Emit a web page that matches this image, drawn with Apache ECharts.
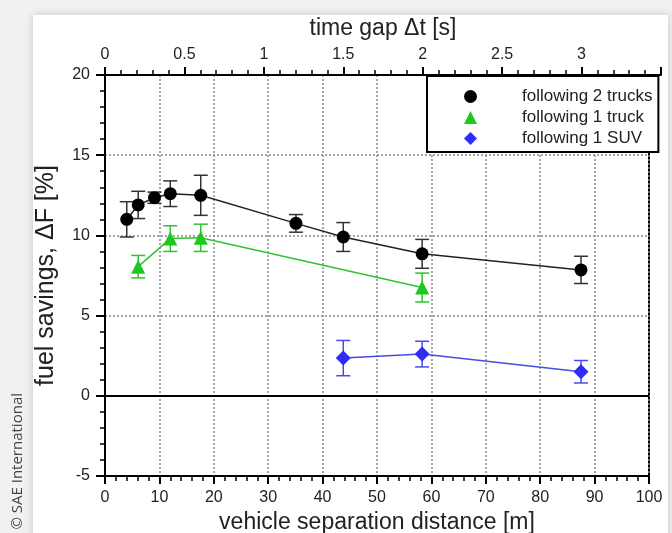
<!DOCTYPE html>
<html>
<head>
    <meta http-equiv="Content-Type" content="text/html; charset=utf-8" />
    <title>fuel savings</title>
    <style>
        body { margin: 0; background: #f1f1f1; }
        #panel {
            position: absolute; left: 33px; top: 15px; width: 635px; height: 600px;
            background: #fff; box-shadow: 0 0 8px rgba(0,0,0,.18);
        }
        #chart { position: absolute; left: 0; top: 0; width: 672px; height: 533px; }
    </style>
</head>
<body>
    <div id="panel"></div>
    <div id="chart"></div>
    <script src="https://cdn.jsdelivr.net/npm/echarts@6/dist/echarts.min.js"></script>
<script>
    // following 2 trucks
    var dist2Trucks = [4, 6.1, 9.1, 12, 17.6, 35.1, 43.8, 58.3, 87.5];
    var save2Trucks = [11.0, 11.9, 12.35, 12.6, 12.5, 10.75, 9.9, 8.85, 7.85];
    var err2Trucks = [1.1, 0.85, 0.35, 0.8, 1.25, 0.55, 0.9, 0.9, 0.85];
    // following 1 truck
    var dist1Truck = [6.1, 12, 17.6, 58.3];
    var save1Truck = [8.05, 9.8, 9.85, 6.75];
    var err1Truck = [0.7, 0.8, 0.85, 0.9];
    // following 1 SUV
    var dist1Suv = [43.8, 58.3, 87.5];
    var save1Suv = [2.35, 2.6, 1.5];
    var err1Suv = [1.1, 0.8, 0.7];

    var seriesNames = ["following 2 trucks", "following 1 truck", "following 1 SUV"];
    var font = "'Liberation Sans', Arial, sans-serif";

    function pts(xs, ys) {
        return xs.map(function (x, i) { return [x, ys[i]]; });
    }
    function bars(xs, ys, es) {
        return xs.map(function (x, i) { return [x, ys[i] - es[i], ys[i] + es[i]]; });
    }
    // error bar: vertical line + caps
    function errRender(params, api) {
        var x = api.value(0);
        var top = api.coord([x, api.value(2)]);
        var bot = api.coord([x, api.value(1)]);
        var w = 7;
        var st = { stroke: api.visual("color"), lineWidth: 1.5 };
        return {
            type: "group",
            children: [
                { type: "line", shape: { x1: top[0], y1: top[1], x2: bot[0], y2: bot[1] }, style: st },
                { type: "line", shape: { x1: top[0] - w, y1: top[1], x2: top[0] + w, y2: top[1] }, style: st },
                { type: "line", shape: { x1: bot[0] - w, y1: bot[1], x2: bot[0] + w, y2: bot[1] }, style: st }
            ]
        };
    }
    function errSeries(data, color) {
        return {
            type: "custom", renderItem: errRender, data: data,
            xAxisIndex: 0, yAxisIndex: 0, z: 1, silent: true,
            itemStyle: { color: color }, encode: { x: 0, y: [1, 2] }
        };
    }

    var dotted = { show: true, lineStyle: { color: "#8a8a8a", width: 1.5, type: [2, 2] } };
    var axisBlack = { onZero: false, lineStyle: { color: "#000", width: 2 } };
    var label = { color: "#222", fontSize: 16, fontFamily: font };
    var nameStyle = { color: "#222", fontSize: 23, fontFamily: font };

    var myChart = echarts.init(document.getElementById("chart"));
    var option = {
        animation: false,
        grid: [
            { left: 105, right: 23, top: 75, bottom: 57, outerBoundsMode: "none", show: true, borderColor: "#000", borderWidth: 2, backgroundColor: "transparent" },
            { left: 105, right: 11, top: 75, bottom: 57, outerBoundsMode: "none" }
        ],
        xAxis: [
            {
                type: "value", gridIndex: 0, position: "bottom", min: 0, max: 100, interval: 10,
                name: "vehicle separation distance [m]", nameLocation: "middle", nameGap: 34, nameTextStyle: nameStyle,
                axisLine: axisBlack,
                axisTick: { show: true, length: 8, lineStyle: { color: "#000", width: 2 } },
                minorTick: { show: true, splitNumber: 5, length: 5, lineStyle: { color: "#000", width: 1.5 } },
                axisLabel: Object.assign({ margin: 14 }, label),
                splitLine: dotted
            },
            {
                type: "value", gridIndex: 1, position: "top", min: 0, max: 3.5, interval: 0.5,
                name: "time gap \u0394t [s]", nameLocation: "middle", nameGap: 35, nameTextStyle: nameStyle,
                axisLine: axisBlack,
                axisTick: { show: true, length: 8, lineStyle: { color: "#000", width: 2 } },
                minorTick: { show: true, splitNumber: 5, length: 5, lineStyle: { color: "#000", width: 1.5 } },
                axisLabel: Object.assign({
                    margin: 12,
                    formatter: function (v) { return v > 3 ? "" : String(v); }
                }, label),
                splitLine: { show: false }
            }
        ],
        yAxis: [
            {
                type: "value", gridIndex: 0, min: -5, max: 20, interval: 5,
                name: "fuel savings, \u0394F [%]", nameLocation: "middle", nameGap: 46,
                nameTextStyle: Object.assign({}, nameStyle, { fontSize: 25 }),
                axisLine: axisBlack,
                axisTick: { show: true, length: 9, lineStyle: { color: "#000", width: 2 } },
                minorTick: { show: true, splitNumber: 5, length: 5, lineStyle: { color: "#000", width: 1.5 } },
                axisLabel: Object.assign({ margin: 15 }, label),
                splitLine: dotted
            },
            { type: "value", gridIndex: 1, min: -5, max: 20, show: false }
        ],
        legend: {
            orient: "vertical", left: 427, top: 76,
            backgroundColor: "#fff", borderColor: "#000", borderWidth: 2, borderRadius: 0,
            padding: [12, 6, 5, 37], itemGap: 4, itemWidth: 13, itemHeight: 13,
            textStyle: { fontSize: 17, fontFamily: font, color: "#222", padding: [0, 0, 0, 40] },
            data: [
                { name: seriesNames[0], icon: "circle" },
                { name: seriesNames[1], icon: "triangle" },
                { name: seriesNames[2], icon: "diamond" }
            ]
        },
        graphic: [
            {
                type: "text", left: 10, top: 393, rotation: Math.PI / 2,
                style: { text: "\u00a9 SAE International", fill: "#444", fontSize: 15, fontFamily: "'Open Sans', sans-serif" }
            }
        ],
        series: [
            errSeries(bars(dist2Trucks, save2Trucks, err2Trucks), "#333"),
            errSeries(bars(dist1Truck, save1Truck, err1Truck), "#2fc42f"),
            errSeries(bars(dist1Suv, save1Suv, err1Suv), "#4a4ae8"),
            {
                name: seriesNames[0], type: "line", data: pts(dist2Trucks, save2Trucks), z: 3,
                symbol: "circle", symbolSize: 13, itemStyle: { color: "#000" },
                lineStyle: { color: "#222", width: 1.5 },
                markLine: {
                    silent: true, symbol: "none", label: { show: false },
                    lineStyle: { color: "#000", width: 2, type: "solid" },
                    data: [{ yAxis: 0 }]
                }
            },
            {
                name: seriesNames[1], type: "line", data: pts(dist1Truck, save1Truck), z: 3,
                symbol: "triangle", symbolSize: 14, itemStyle: { color: "#1ec81e" },
                lineStyle: { color: "#2ec42e", width: 1.5 }
            },
            {
                name: seriesNames[2], type: "line", data: pts(dist1Suv, save1Suv), z: 3,
                symbol: "diamond", symbolSize: 15, itemStyle: { color: "#2d2df5" },
                lineStyle: { color: "#4a4ae8", width: 1.5 }
            }
        ]
    };

    myChart.setOption(option);
</script>
</body>
</html>
